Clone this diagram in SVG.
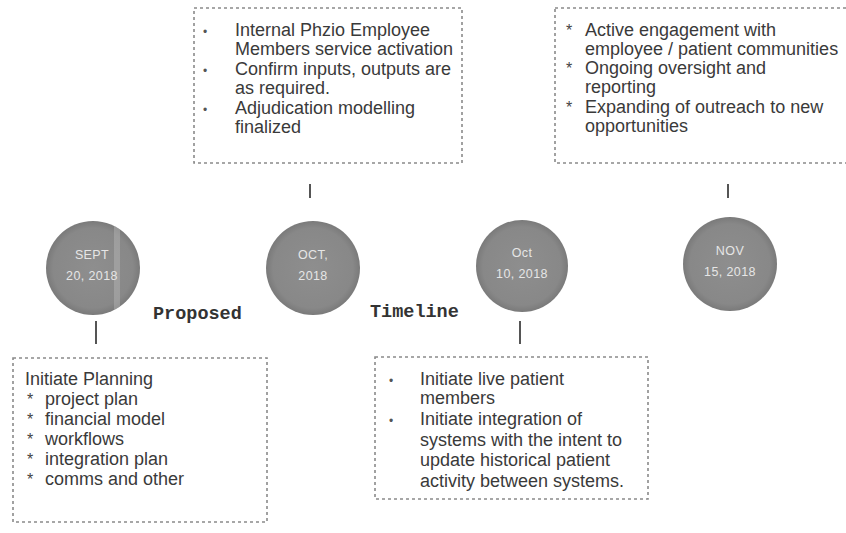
<svg xmlns="http://www.w3.org/2000/svg" width="846" height="533" viewBox="0 0 846 533">
<style>
.box{fill:none;stroke:#8a8a8a;stroke-width:1.6;stroke-dasharray:3 3}
.t{font-family:"Liberation Sans",Arial,sans-serif;font-size:18px;fill:#3a3a3a}
.dot{font-family:"Liberation Sans",Arial,sans-serif;font-size:12px;fill:#555}
.ast{font-family:"Liberation Sans",Arial,sans-serif;font-size:16px;fill:#444}
.c{fill:url(#cg)}
.ct{font-family:"Liberation Sans",Arial,sans-serif;font-size:12.5px;fill:#e6e6e6;text-anchor:middle;letter-spacing:0.4px}
.tick{stroke:#555;stroke-width:2}
.mono{font-family:"Liberation Mono","Courier New",monospace;font-size:18.5px;font-weight:bold;fill:#333}
</style>
<defs>
<radialGradient id="cg" cx="0.5" cy="0.5" r="0.5">
<stop offset="0" stop-color="#8e8e8e"/>
<stop offset="0.85" stop-color="#888"/>
<stop offset="1" stop-color="#7a7a7a"/>
</radialGradient>
<clipPath id="cs"><circle cx="93" cy="268" r="47"/></clipPath>
</defs>
<rect width="846" height="533" fill="#fff"/>

<g id="connectors">
<line class="tick" x1="310" y1="184" x2="310" y2="198"/>
<line class="tick" x1="728" y1="184" x2="728" y2="198"/>
<line class="tick" x1="96" y1="321" x2="96" y2="344"/>
<line class="tick" x1="520" y1="321" x2="520" y2="344"/>
</g>

<g id="circle-sept">
<circle class="c" cx="93" cy="268" r="47"/>
<rect x="114" y="215" width="6" height="110" fill="#b8b8b8" opacity="0.45" clip-path="url(#cs)"/>
<text class="ct" x="92" y="259">SEPT</text>
<text class="ct" x="92" y="280">20, 2018</text>
</g>
<g id="circle-oct">
<circle class="c" cx="313" cy="268" r="47"/>
<text class="ct" x="313" y="259">OCT,</text>
<text class="ct" x="313" y="280">2018</text>
</g>
<g id="circle-oct10">
<circle class="c" cx="522" cy="266" r="46"/>
<text class="ct" x="522" y="257">Oct</text>
<text class="ct" x="522" y="278">10, 2018</text>
</g>
<g id="circle-nov">
<circle class="c" cx="730" cy="264" r="47"/>
<text class="ct" x="730" y="255">NOV</text>
<text class="ct" x="730" y="276">15, 2018</text>
</g>

<g id="title">
<text class="mono" x="153" y="319">Proposed</text>
<text class="mono" x="370" y="317">Timeline</text>
</g>

<g id="box-oct">
<rect class="box" x="194" y="8" width="268" height="155"/>
<text class="dot" x="203" y="36">•</text>
<text class="dot" x="203" y="75">•</text>
<text class="dot" x="203" y="114">•</text>
<text class="t" x="235" y="36">Internal Phzio Employee</text>
<text class="t" x="235" y="55">Members service activation</text>
<text class="t" x="235" y="75">Confirm inputs, outputs are</text>
<text class="t" x="235" y="94">as required.</text>
<text class="t" x="235" y="114">Adjudication modelling</text>
<text class="t" x="235" y="133">finalized</text>
</g>

<g id="box-nov">
<rect class="box" x="555" y="8" width="300" height="155"/>
<text class="ast" x="566" y="36">*</text>
<text class="ast" x="566" y="74">*</text>
<text class="ast" x="566" y="113">*</text>
<text class="t" x="585" y="36">Active engagement with</text>
<text class="t" x="585" y="55">employee / patient communities</text>
<text class="t" x="585" y="74">Ongoing oversight and</text>
<text class="t" x="585" y="93">reporting</text>
<text class="t" x="585" y="113">Expanding of outreach to new</text>
<text class="t" x="585" y="132">opportunities</text>
</g>

<g id="box-sept">
<rect class="box" x="13" y="358" width="254" height="164"/>
<text class="t" x="25" y="385">Initiate Planning</text>
<text class="ast" x="27" y="405">*</text>
<text class="ast" x="27" y="425">*</text>
<text class="ast" x="27" y="445">*</text>
<text class="ast" x="27" y="465">*</text>
<text class="ast" x="27" y="485">*</text>
<text class="t" x="45" y="405">project plan</text>
<text class="t" x="45" y="425">financial model</text>
<text class="t" x="45" y="445">workflows</text>
<text class="t" x="45" y="465">integration plan</text>
<text class="t" x="45" y="485">comms and other</text>
</g>

<g id="box-oct10">
<rect class="box" x="375" y="357" width="273" height="142"/>
<text class="dot" x="389" y="385">•</text>
<text class="dot" x="389" y="425">•</text>
<text class="t" x="420" y="385">Initiate live patient</text>
<text class="t" x="420" y="404">members</text>
<text class="t" x="420" y="425">Initiate integration of</text>
<text class="t" x="420" y="446">systems with the intent to</text>
<text class="t" x="420" y="466">update historical patient</text>
<text class="t" x="420" y="487">activity between systems.</text>
</g>
</svg>
